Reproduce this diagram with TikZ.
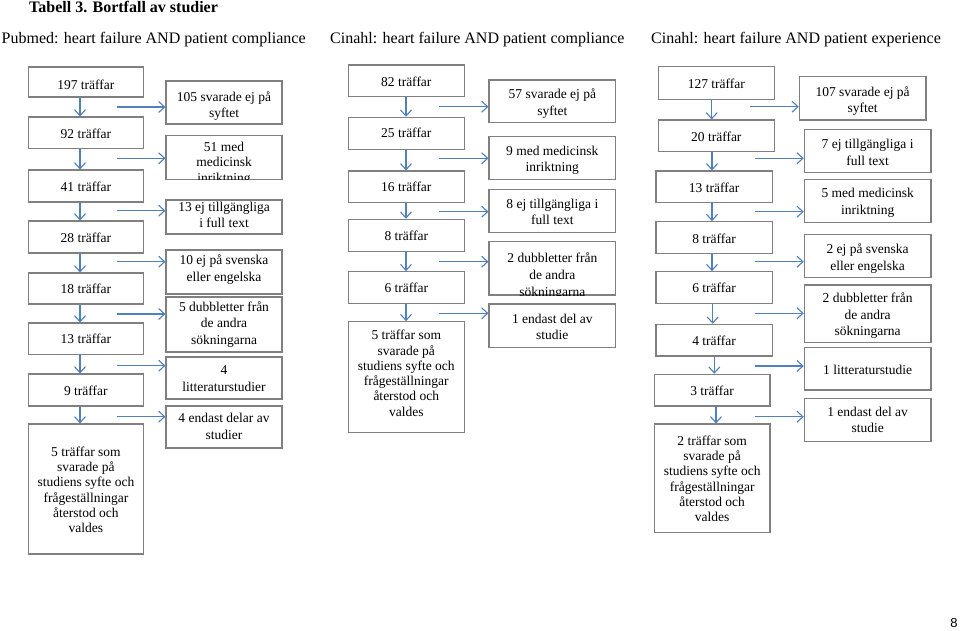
\documentclass[tikz,border=0pt]{standalone}
\usepackage{fontspec}
\setmainfont{Liberation Serif}
\newfontfamily\pnumfont{Liberation Sans}
\usetikzlibrary{arrows.meta}
\definecolor{arrowblue}{RGB}{79,129,189}
\definecolor{boxgray}{RGB}{128,128,128}
\tikzset{
  box/.style={draw=boxgray, line width=1.1pt, inner sep=0pt, fill=white},
  btext/.style={inner sep=0pt, align=center, anchor=north, font=\fontsize{13.5}{16.5}\selectfont},
  tight/.style={font=\fontsize{13.5}{15.3}\selectfont},
  sp155/.style={font=\fontsize{13.5}{15.5}\selectfont},
  sp17/.style={font=\fontsize{13.5}{17}\selectfont},
  flow/.style={draw=arrowblue, line width=1.1pt, -{Straight Barb[length=6pt, width=11pt, line width=1.1pt]}},
  head/.style={inner sep=0pt, anchor=base west, font=\fontsize{16}{19}\selectfont},
}
% #1 opt style, #2 name, #3 x1, #4 y1, #5 x2, #6 y2, #7 first baseline, #8 text
\newcommand\bx[8][]{%
  \node[box, minimum width={(#5-#3)*1pt}, minimum height={(#6-#4)*1pt}] (#2) at ({(#3+#5)/2},{(#4+#6)/2}) {};
  \node[btext,#1] (#2-t) at ({(#3+#5)/2},{#7-11}) {\rule{0pt}{11pt}#8};
}
\newcommand\bxc[8][]{%
  \node[box, minimum width={(#5-#3)*1pt}, minimum height={(#6-#4)*1pt}] (#2) at ({(#3+#5)/2},{(#4+#6)/2}) {};
  \begin{scope}
    \clip (#2.south west) rectangle (#2.north east);
    \node[btext,#1] (#2-t) at ({(#3+#5)/2},{#7-11}) {\rule{0pt}{11pt}#8};
  \end{scope}
}
\begin{document}
\begin{tikzpicture}[x=1pt, y=-1pt]
\fill[white] (0,0) rectangle (960,631);
\useasboundingbox (0,0) rectangle (960,631);

% headers
\node[head, font=\fontsize{16}{19}\bfseries] (title) at (29,12.5) {Tabell 3. Bortfall av studier};
\node[head] (h1) at (1.5,43.5) {Pubmed: heart failure AND patient compliance};
\node[head] (h2) at (330,43.5) {Cinahl: heart failure AND patient compliance};
\node[head] (h3) at (651,43.5) {Cinahl: heart failure AND patient experience};
\node[inner sep=0pt, anchor=base, font=\pnumfont\fontsize{13}{15}\selectfont] (pg) at (954,627) {8};

% ---------- column 1 ----------
\bx{m1}{28.5}{67}{143.3}{97}{89}{197 träffar}
\bx{m2}{28.5}{117}{143.3}{148.5}{138.5}{92 träffar}
\bx{m3}{28.5}{170}{143.3}{202}{191}{41 träffar}
\bx{m4}{28.5}{221}{143.3}{253}{242}{28 träffar}
\bx{m5}{28.5}{273}{143.3}{304}{293.5}{18 träffar}
\bx{m6}{28.5}{323}{143.3}{354.5}{343.5}{13 träffar}
\bx{m7}{28.5}{374}{143.3}{406}{395}{9 träffar}
\bx[tight]{m8}{28.5}{424}{143.3}{554}{456}{5 träffar som\\svarade på\\studiens syfte och\\frågeställningar\\återstod och\\valdes}

\bx{r1}{166}{81}{282}{124}{101}{105 svarade ej på\\syftet}
\bxc[sp155]{r2}{166}{135.3}{282}{179.3}{151}{51 med\\medicinsk\\inriktning}
\bx{r3}{166}{200}{282}{234}{211}{13 ej tillgängliga\\i full text}
\bx{r4}{166}{250}{282}{294}{264.5}{10 ej på svenska\\eller engelska}
\bx{r5}{166}{297}{282}{352}{311}{5 dubbletter från\\de andra\\sökningarna}
\bx{r6}{166}{357}{282}{399}{374.5}{4\\litteraturstudier}
\bx{r7}{166}{406}{282}{448}{422.5}{4 endast delar av\\studier}

\coordinate (c1) at (80,0);
\draw[flow] (m1.south -| c1) -- (m2.north -| c1);
\draw[flow] (m2.south -| c1) -- (m3.north -| c1);
\draw[flow] (m3.south -| c1) -- (m4.north -| c1);
\draw[flow] (m4.south -| c1) -- (m5.north -| c1);
\draw[flow] (m5.south -| c1) -- (m6.north -| c1);
\draw[flow] (m6.south -| c1) -- (m7.north -| c1);
\draw[flow] (m7.south -| c1) -- (m8.north -| c1);

\coordinate (a1) at (116.7,107);
\coordinate (a2) at (116.7,158.3);
\coordinate (a3) at (116.7,210.7);
\coordinate (a4) at (116.7,261.7);
\coordinate (a5) at (116.7,314);
\coordinate (a6) at (116.7,365.7);
\coordinate (a7) at (116.7,416.7);
\draw[flow] (a1) -- (a1 -| r1.west);
\draw[flow] (a2) -- (a2 -| r2.west);
\draw[flow] (a3) -- (a3 -| r3.west);
\draw[flow] (a4) -- (a4 -| r4.west);
\draw[flow] (a5) -- (a5 -| r5.west);
\draw[flow] (a6) -- (a6 -| r6.west);
\draw[flow] (a7) -- (a7 -| r7.west);

% ---------- column 2 ----------
\bx{n1}{348.3}{65}{464.3}{96.7}{86}{82 träffar}
\bx{n2}{348.3}{117.3}{464.3}{149.3}{137.5}{25 träffar}
\bx{n3}{348.3}{171}{464.3}{202.7}{191.5}{16 träffar}
\bx{n4}{348.3}{219.3}{464.3}{251.7}{240}{8 träffar}
\bx{n5}{348.3}{271.7}{464.3}{303.3}{292.5}{6 träffar}
\bx[tight]{n6}{348.3}{321.7}{464.3}{432.7}{339.5}{5 träffar som\\svarade på\\studiens syfte och\\frågeställningar\\återstod och\\valdes}

\bx{s1}{489}{80}{615.7}{122.7}{98.5}{57 svarade ej på\\syftet}
\bx{s2}{489}{136.7}{615.7}{179.3}{155}{9 med medicinsk\\inriktning}
\bx{s3}{489}{189.3}{615.7}{232.3}{208}{8 ej tillgängliga i\\full text}
\bxc[sp17]{s4}{489}{241.7}{615.7}{295}{262}{2 dubbletter från\\de andra\\sökningarna}
\bx{s5}{489}{304}{615.7}{347.3}{323}{1 endast del av\\studie}

\coordinate (c2) at (406,0);
\draw[flow] (n1.south -| c2) -- (n2.north -| c2);
\draw[flow] (n2.south -| c2) -- (n3.north -| c2);
\draw[flow] (n3.south -| c2) -- (n4.north -| c2);
\draw[flow] (n4.south -| c2) -- (n5.north -| c2);
\draw[flow] (n5.south -| c2) -- (n6.north -| c2);

\coordinate (b1) at (439.3,106.7);
\coordinate (b2) at (439.3,158.3);
\coordinate (b3) at (439.3,211.7);
\coordinate (b4) at (439.3,261.7);
\coordinate (b5) at (439.3,313.3);
\draw[flow] (b1) -- (b1 -| s1.west);
\draw[flow] (b2) -- (b2 -| s2.west);
\draw[flow] (b3) -- (b3 -| s3.west);
\draw[flow] (b4) -- (b4 -| s4.west);
\draw[flow] (b5) -- (b5 -| s5.west);

% ---------- column 3 ----------
\bx{p1}{658.3}{66.7}{774.3}{99.3}{88.5}{127 träffar}
\bx{p2}{658.3}{120}{774.3}{151.7}{141.5}{20 träffar}
\bx{p3}{656}{171}{772.3}{202.7}{192}{13 träffar}
\bx{p4}{656}{221.7}{772.3}{253.3}{243}{8 träffar}
\bx{p5}{656}{271.7}{772.3}{303.3}{292.5}{6 träffar}
\bx{p6}{656}{324.3}{772.3}{356}{345.5}{4 träffar}
\bx{p7}{654.3}{374.3}{770}{406}{395}{3 träffar}
\bx[tight]{p8}{654.3}{424}{770}{532.3}{445}{2 träffar som\\svarade på\\studiens syfte och\\frågeställningar\\återstod och\\valdes}

\bx{q1}{799.3}{76.7}{926}{120}{96}{107 svarade ej på\\syftet}
\bx{q2}{804.3}{129.3}{931}{172.7}{148.5}{7 ej tillgängliga i\\full text}
\bx{q3}{804.3}{179.3}{931}{222.7}{197.5}{5 med medicinsk\\inriktning}
\bx{q4}{804.3}{234.3}{931}{277.7}{253.5}{2 ej på svenska\\eller engelska}
\bx{q5}{804.3}{285}{931}{342.3}{302.5}{2 dubbletter från\\de andra\\sökningarna}
\bx{q6}{804.3}{347.7}{931}{390}{374.5}{1 litteraturstudie}
\bx{q7}{804.3}{398.3}{931}{441.7}{416}{1 endast del av\\studie}

\coordinate (e1) at (711.7,0);
\coordinate (e2) at (712,0);
\coordinate (e3) at (712.7,0);
\coordinate (e4) at (714.3,0);
\coordinate (e5) at (716,0);
\draw[flow] (p1.south -| e1) -- (p2.north -| e1);
\draw[flow] (p2.south -| e2) -- (p3.north -| e2);
\draw[flow] (p3.south -| e2) -- (p4.north -| e2);
\draw[flow] (p4.south -| e2) -- (p5.north -| e2);
\draw[flow] (p5.south -| e3) -- (p6.north -| e3);
\draw[flow] (p6.south -| e4) -- (p7.north -| e4);
\draw[flow] (p7.south -| e5) -- (p8.north -| e5);

\coordinate (g1) at (750,106.7);
\coordinate (g2) at (755,158.3);
\coordinate (g3) at (755,211.7);
\coordinate (g4) at (755,261.7);
\coordinate (g5) at (755,313.3);
\coordinate (g6) at (755,366);
\coordinate (g7) at (755,416.7);
\draw[flow] (g1) -- (g1 -| q1.west);
\draw[flow] (g2) -- (g2 -| q2.west);
\draw[flow] (g3) -- (g3 -| q3.west);
\draw[flow] (g4) -- (g4 -| q4.west);
\draw[flow] (g5) -- (g5 -| q5.west);
\draw[flow] (g6) -- (g6 -| q6.west);
\draw[flow] (g7) -- (g7 -| q7.west);
\end{tikzpicture}
\end{document}
